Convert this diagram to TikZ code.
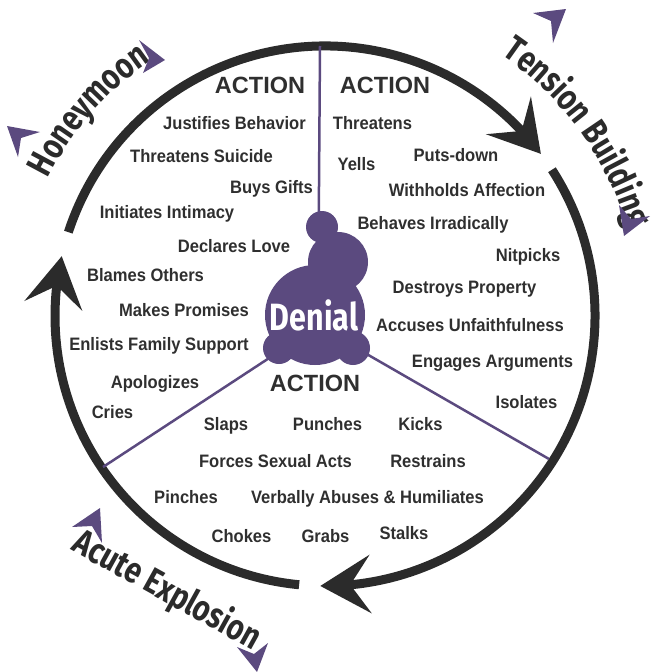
\documentclass[tikz,border=0pt]{standalone}
\usepackage{fontspec}
\setmainfont{Liberation Sans}
\newfontfamily\itemfamily[FakeStretch=0.92]{Liberation Sans}
\newfontfamily\phasefamily[FakeStretch=0.8]{Fira Sans}
\usetikzlibrary{arrows.meta, bending, calc, decorations.text}

\definecolor{cyclepurple}{HTML}{5B4A7F}
\definecolor{ringgray}{HTML}{2B2B2B}
\definecolor{inkgray}{HTML}{2F2F2F}

\tikzset{
    item/.style={font=\itemfamily\bfseries\fontsize{18}{18}\selectfont, text=inkgray,
        inner sep=0pt, anchor=base, yshift=-6.5pt},
    heading/.style={font=\bfseries\fontsize{23.5}{24}\selectfont, text=inkgray,
        inner sep=0pt, anchor=base, yshift=-8.5pt},
    phase/.style={font=\phasefamily\bfseries\fontsize{36}{36}\selectfont, text=ringgray, inner sep=0pt},
    ring/.style={draw=ringgray, line width=9pt, -{Stealth[length=50pt, width=58pt, inset=20pt]}},
    spoke/.style={draw=cyclepurple, line width=2.5pt},
    tipmark/.style={fill=cyclepurple},
}

\begin{document}
\begin{tikzpicture}[x=1pt, y=-1pt]
    \useasboundingbox (0,0) rectangle (655,672);
    \coordinate (c) at (325,316);

    % 1. Three arcs of the cycle (angles negative because y points down)
    \draw[ring] ($(c)+(-161.9:270)$) arc[start angle=-161.9, end angle=-36.9, radius=270];
    \draw[ring] ($(c)+(-32.8:270)$) arc[start angle=-32.8, end angle=91, radius=270];
    \draw[ring] ($(c)+(95.5:270)$) arc[start angle=95.5, end angle=192.8, radius=270];

    % 2. Spokes splitting the three sections
    \coordinate (hub) at (318,326);
    \coordinate (rimtop) at (320,46);
    \coordinate (rimleft) at (103,467);
    \coordinate (rimright) at (549,459);
    \draw[spoke] (hub) -- (rimtop);
    \draw[spoke] (hub) -- (rimleft);
    \draw[spoke] (hub) -- (rimright);

    % 3. Denial blob
    \fill[cyclepurple] (322,227) circle[radius=16];
    \fill[cyclepurple] (338,262) circle[radius=30];
    \fill[cyclepurple] (315,315) circle[radius=50];
    \fill[cyclepurple] (279,348) circle[radius=16];
    \fill[cyclepurple] (353,348) circle[radius=17];
    \node[phase, text=white, font=\phasefamily\bfseries\fontsize{38}{38}\selectfont] (denial) at (314,315) {Denial};

    % 4. Phase names
    \path[decorate, decoration={text along path, text align=center,
        text={|\phasefamily\bfseries\fontsize{36}{36}\selectfont\color{ringgray}|Honeymoon}}]
        ($(c)+(-174:309)$) arc[start angle=-174, end angle=-104, radius=309];
    \path[decorate, decoration={text along path, text align=center,
        text={|\phasefamily\bfseries\fontsize{36}{36}\selectfont\color{ringgray}|Tension Building}}]
        ($(c)+(-73:315)$) arc[start angle=-73, end angle=1, radius=315];
    \node[phase, rotate=-29] (acute) at (167,591) {Acute Explosion};

    % purple marks at both ends of each phase name
    \fill[tipmark] (7,126) -- (40,132) -- (21,138) -- (18,157) -- cycle;
    \fill[tipmark] (165,60) -- (139,40) -- (149,58) -- (143,73) -- cycle;
    \fill[tipmark] (566,9) -- (533,13) -- (551,21) -- (553,43) -- cycle;
    \fill[tipmark] (624,236) -- (619,205) -- (631,219) -- (650,216) -- cycle;
    \fill[tipmark] (100,508) -- (72,527) -- (92,526) -- (102,543) -- cycle;
    \fill[tipmark] (257,672) -- (237,647) -- (254,654) -- (268,643) -- cycle;

    % 5. Section headings
    \node[heading] (acthoney) at (260,85) {ACTION};
    \node[heading] (acttension) at (385,85) {ACTION};
    \node[heading] (actacute) at (315,383) {ACTION};

    % Honeymoon actions
    \node[item] (h1) at (234.5,123) {Justifies Behavior};
    \node[item] (h2) at (201.5,156) {Threatens Suicide};
    \node[item] (h3) at (271.5,187) {Buys Gifts};
    \node[item] (h4) at (167,212) {Initiates Intimacy};
    \node[item] (h5) at (234,246) {Declares Love};
    \node[item] (h6) at (145.5,275) {Blames Others};
    \node[item] (h7) at (184,310) {Makes Promises};
    \node[item] (h8) at (159,344) {Enlists Family Support};
    \node[item] (h9) at (155,382) {Apologizes};
    \node[item] (h10) at (112.5,412) {Cries};

    % Tension building actions
    \node[item] (t1) at (372.5,123) {Threatens};
    \node[item] (t2) at (356.5,164) {Yells};
    \node[item] (t3) at (456,155) {Puts-down};
    \node[item] (t4) at (467,190) {Withholds Affection};
    \node[item] (t5) at (433,223) {Behaves Irradically};
    \node[item] (t6) at (528,255) {Nitpicks};
    \node[item] (t7) at (464.5,287) {Destroys Property};
    \node[item] (t8) at (470,325) {Accuses Unfaithfulness};
    \node[item] (t9) at (492.5,361) {Engages Arguments};
    \node[item] (t10) at (526.5,402) {Isolates};

    % Acute explosion actions
    \node[item] (a1) at (226,424) {Slaps};
    \node[item] (a2) at (327.5,424) {Punches};
    \node[item] (a3) at (420.5,424) {Kicks};
    \node[item] (a4) at (275.5,461) {Forces Sexual Acts};
    \node[item] (a5) at (428,461) {Restrains};
    \node[item] (a6) at (186,497) {Pinches};
    \node[item] (a7) at (367.5,497) {Verbally Abuses \& Humiliates};
    \node[item] (a8) at (241.5,536) {Chokes};
    \node[item] (a9) at (325.5,536) {Grabs};
    \node[item] (a10) at (404,533) {Stalks};
\end{tikzpicture}
\end{document}
